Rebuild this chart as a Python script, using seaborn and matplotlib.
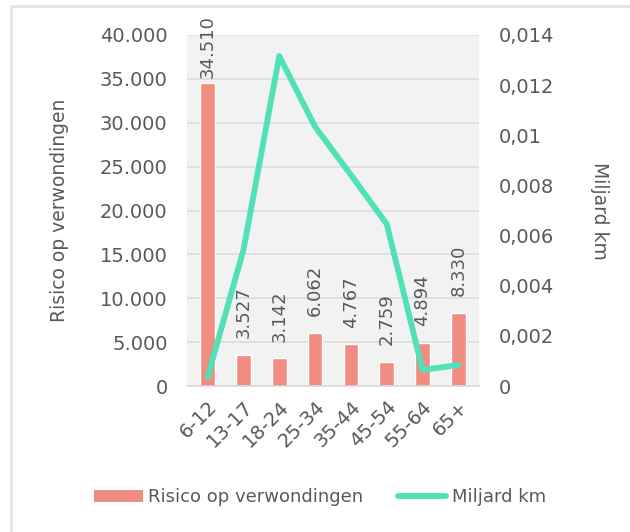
import numpy as np
import pandas as pd
import matplotlib
matplotlib.use("Agg")
import matplotlib.pyplot as plt
from matplotlib.ticker import FuncFormatter, MultipleLocator
from matplotlib.patches import Patch
from matplotlib.lines import Line2D
import seaborn as sns

categories = ["6-12", "13-17", "18-24", "25-34", "35-44", "45-54", "55-64", "65+"]
risico = [34510, 3527, 3142, 6062, 4767, 2759, 4894, 8330]
miljard_km = [0.00036, 0.00542, 0.01316, 0.01034, 0.00842, 0.00646, 0.00064, 0.00084]

bar_color = "#f08c80"
line_color = "#52e0b9"
text_color = "#595959"

sns.set_theme(style="white")
plt.rcParams["font.family"] = ["DejaVu Sans"]

df = pd.DataFrame({"cat": categories, "risico": risico, "km": miljard_km})

W, H = 630, 532
fig = plt.figure(figsize=(W / 100, H / 100), dpi=100)
ax = fig.add_axes([187 / W, 1 - 386 / H, (479 - 187) / W, (386 - 35) / H])
ax.set_facecolor("#f2f2f2")

sns.barplot(data=df, x="cat", y="risico", color=bar_color, width=0.41,
            saturation=1, ax=ax, zorder=2)
ax.set_ylim(0, 40000)
ax.yaxis.set_major_locator(MultipleLocator(5000))
ax.yaxis.set_major_formatter(FuncFormatter(lambda v, p: f"{int(round(v)):,}".replace(",", ".")))
ax.grid(axis="y", color="#dcdcdc", linewidth=1.2, zorder=0)
ax.set_axisbelow(True)
for s in ["top", "right", "left"]:
    ax.spines[s].set_visible(False)
ax.spines["bottom"].set_color("#d9d9d9")
ax.spines["bottom"].set_linewidth(1.2)
ax.tick_params(axis="y", length=0, labelsize=14, colors=text_color, pad=14)
ax.tick_params(axis="x", length=0, labelsize=14, colors=text_color, pad=8)
ax.set_xlabel("")
ax.set_ylabel("Risico op verwondingen", fontsize=13.5, color=text_color, labelpad=22)
plt.setp(ax.get_xticklabels(), rotation=45, ha="right", va="top", rotation_mode="anchor")

# bar value labels; the tallest one is pushed down so it stays on the canvas
for i, v in enumerate(risico):
    gap = 12 if v < 30000 else 3.5
    ax.annotate(f"{v:,}".replace(",", "."), xy=(i, v), xytext=(0, gap),
                textcoords="offset points", rotation=90, ha="center", va="bottom",
                fontsize=13, color=text_color, annotation_clip=False, zorder=3)

ax2 = ax.twinx()
sns.lineplot(x=np.arange(len(categories)), y=miljard_km, ax=ax2, color=line_color,
             linewidth=4.2, sort=False, zorder=4, solid_capstyle="round")
ax2.set_ylim(0, 0.014)
ax2.yaxis.set_major_locator(MultipleLocator(0.002))
ax2.yaxis.set_major_formatter(FuncFormatter(lambda v, p: f"{v:g}".replace(".", ",")))
for s in ax2.spines.values():
    s.set_visible(False)
ax2.tick_params(axis="y", length=0, labelsize=14, colors=text_color, pad=14)
ax2.set_ylabel("Miljard km", fontsize=13.5, color=text_color, rotation=-90, labelpad=40)

handles = [Patch(facecolor=bar_color, edgecolor="none"),
           Line2D([0], [0], color=line_color, linewidth=4.2, solid_capstyle="round")]
leg = fig.legend(handles, ["Risico op verwondingen", "Miljard km"], loc="center",
                 bbox_to_anchor=(0.508, 1 - 497 / H), ncol=2, frameon=False, fontsize=13,
                 handlelength=2.7, handleheight=0.65, handletextpad=0.3, columnspacing=1.9)
for t in leg.get_texts():
    t.set_color(text_color)

# outer chart border (left and top edges visible)
fig.add_artist(Line2D([10.5 / W, 10.5 / W], [0, 1 - 6 / H], transform=fig.transFigure,
                      color="#e3e3e3", linewidth=2))
fig.add_artist(Line2D([10.5 / W, 1], [1 - 6 / H, 1 - 6 / H], transform=fig.transFigure,
                      color="#e3e3e3", linewidth=2))

fig.savefig("out.png", dpi=100, facecolor="white")
